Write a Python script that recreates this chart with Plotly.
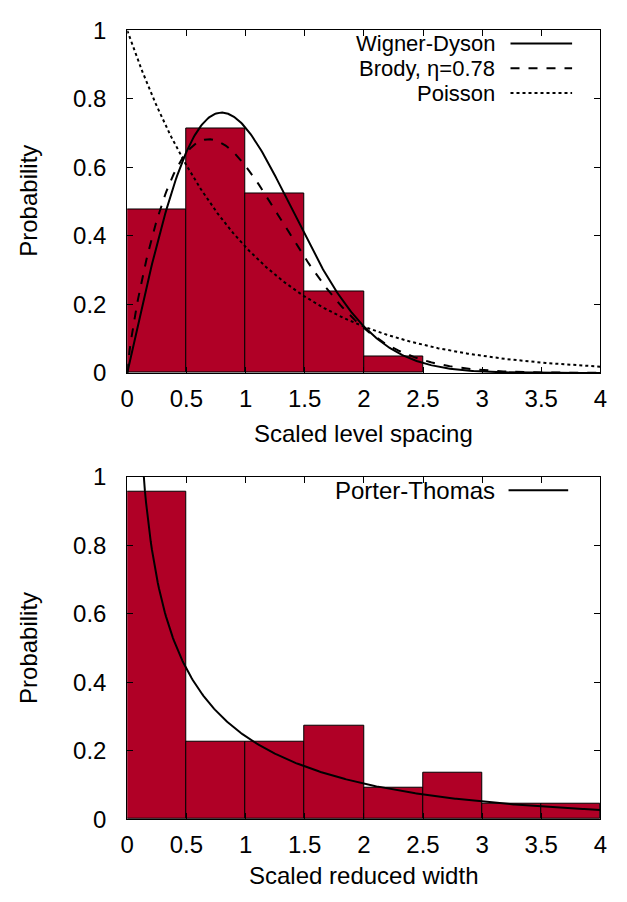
import numpy as np
import plotly.graph_objects as go
from math import pi

# ---- data ----
bin_centers = [0.25, 0.75, 1.25, 1.75, 2.25, 2.75, 3.25, 3.75]
spacing_prob = [0.476, 0.714, 0.524, 0.238, 0.048]
width_prob = [0.955, 0.227, 0.227, 0.273, 0.091, 0.136, 0.045, 0.045]
eta = 0.78
brody_amp = 1.414
brody_rate = 0.85
xtick_vals = [0, 0.5, 1, 1.5, 2, 2.5, 3, 3.5, 4]
xtick_text = ["0", "0.5", "1", "1.5", "2", "2.5", "3", "3.5", "4"]
ytick_vals = [0, 0.2, 0.4, 0.6, 0.8, 1]
ytick_text = ["0", "0.2", "0.4", "0.6", "0.8", "1"]

# theoretical distributions
s = np.linspace(0, 4, 400)
wigner = (pi / 2) * s * np.exp(-pi * s**2 / 4)
brody = brody_amp * s**eta * np.exp(-brody_rate * s ** (1 + eta))
poisson = np.exp(-s)
xw = np.linspace(0.05, 4, 400)
porter = 1 / np.sqrt(2 * pi * xw) * np.exp(-xw / 2)

BAR = "#b00026"
W, H = 627, 902
FONT = "Liberation Sans, Arial, sans-serif"
FS = 24
KEY_FS = 22

fig = go.Figure()
fig.add_trace(go.Bar(x=bin_centers[:len(spacing_prob)], y=spacing_prob, width=0.5,
                     marker=dict(color=BAR, line=dict(color="black", width=1)),
                     xaxis="x", yaxis="y", showlegend=False))
fig.add_trace(go.Scatter(x=s, y=wigner, mode="lines", line=dict(color="black", width=2),
                         xaxis="x", yaxis="y", showlegend=False))
fig.add_trace(go.Scatter(x=s, y=brody, mode="lines", line=dict(color="black", width=2, dash="dash"),
                         xaxis="x", yaxis="y", showlegend=False))
fig.add_trace(go.Scatter(x=s, y=poisson, mode="lines", line=dict(color="black", width=2, dash="dot"),
                         xaxis="x", yaxis="y", showlegend=False))

fig.add_trace(go.Bar(x=bin_centers, y=width_prob, width=0.5,
                     marker=dict(color=BAR, line=dict(color="black", width=1)),
                     xaxis="x2", yaxis="y2", showlegend=False))
fig.add_trace(go.Scatter(x=xw, y=porter, mode="lines", line=dict(color="black", width=2),
                         xaxis="x2", yaxis="y2", showlegend=False))

xdom = [123 / W, 607 / W]
top_dom = [(H - 370) / H, (H - 17) / H]
bot_dom = [(H - 830) / H, (H - 477) / H]

axis_common = dict(showline=True, linecolor="black", linewidth=1, mirror="ticks",
                   ticks="inside", ticklen=6, tickcolor="black", showgrid=False,
                   zeroline=False, tickfont=dict(family=FONT, size=FS, color="black"))

fig.update_layout(
    width=W, height=H, margin=dict(l=0, r=0, t=0, b=0),
    plot_bgcolor="white", paper_bgcolor="white", bargap=0,
    font=dict(family=FONT, size=FS, color="black"),
    xaxis=dict(domain=xdom, range=[0, 4], anchor="y", tickvals=xtick_vals, ticktext=xtick_text,
               ticklabelstandoff=4, **axis_common),
    yaxis=dict(domain=top_dom, range=[0, 1], anchor="x", tickvals=ytick_vals, ticktext=ytick_text,
               ticklabelstandoff=15, **axis_common),
    xaxis2=dict(domain=xdom, range=[0, 4], anchor="y2", tickvals=xtick_vals, ticktext=xtick_text,
                ticklabelstandoff=4, **axis_common),
    yaxis2=dict(domain=bot_dom, range=[0, 1], anchor="x2", tickvals=ytick_vals, ticktext=ytick_text,
                ticklabelstandoff=15, **axis_common),
)

# axis titles
titles = [("Scaled level spacing", 365, 432, 0), ("Scaled reduced width", 365, 888, 0),
          ("Probability", 22, 193, -90), ("Probability", 22, 654, -90)]
for text, xpx, ypx, ang in titles:
    fig.add_annotation(x=xpx / W, y=(H - ypx) / H, xref="paper", yref="paper", text=text,
                       showarrow=False, xanchor="center", yanchor="middle", textangle=ang,
                       font=dict(family=FONT, size=FS, color="black"))

# gnuplot-style key (text right, sample line on the right)
legend_rows = [("Wigner-Dyson", 30.5, 515, 578, "solid"), ("Brody, η=0.78", 56, 515, 578, "dash"),
               ("Poisson", 81.5, 515, 578, "dot"), ("Porter-Thomas", 491, 513, 574, "solid")]
for label, ypx, x0, x1, dash in legend_rows:
    yp = (H - ypx) / H
    fig.add_annotation(x=500 / W, y=yp, xref="paper", yref="paper", text=label,
                       showarrow=False, xanchor="right", yanchor="middle", borderpad=0,
                       font=dict(family=FONT, size=KEY_FS if ypx < 100 else FS, color="black"))
    fig.add_shape(type="line", xref="paper", yref="paper", x0=x0 / W, x1=x1 / W,
                  y0=yp, y1=yp, line=dict(color="black", width=2, dash=dash))

fig.write_html("out.html")
